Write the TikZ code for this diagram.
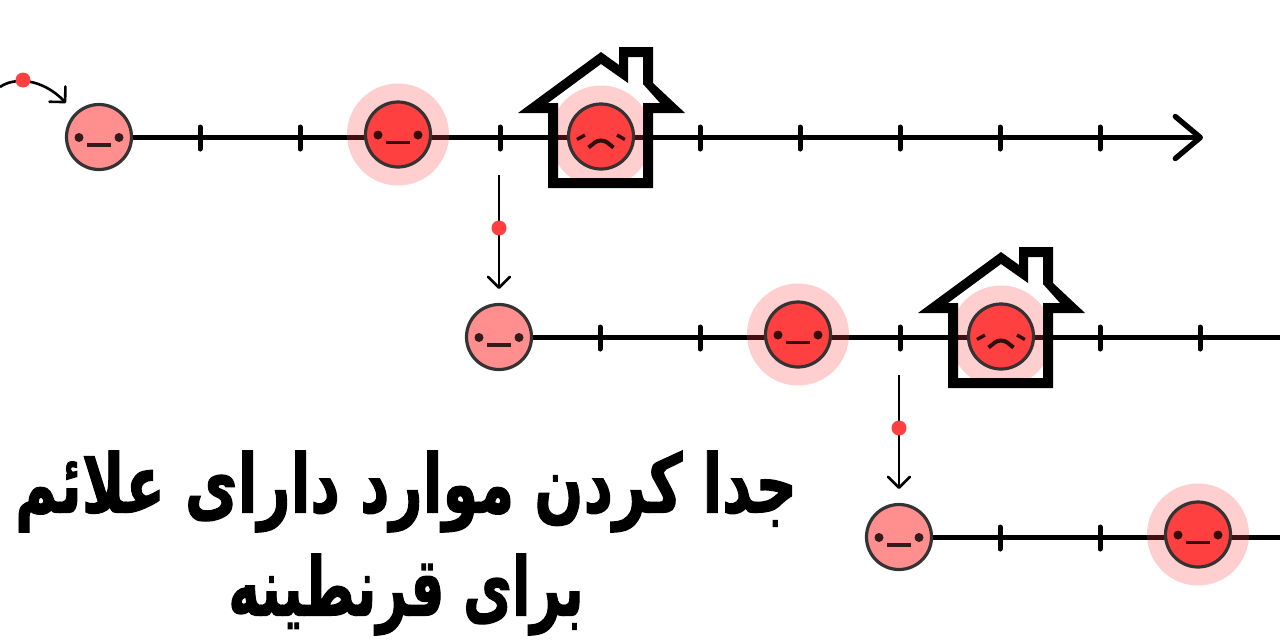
\documentclass[tikz,border=0pt]{standalone}
\usepackage{fontspec}
\usetikzlibrary{arrows.meta}
\TeXXeTstate=1
\newfontfamily\arabicfont[Script=Arabic,FakeBold=1.6]{DejaVu Sans Bold}
\definecolor{strong}{HTML}{FF4040}
\definecolor{soft}{HTML}{FF8F8F}
\definecolor{rim}{HTML}{333333}
\tikzset{
  x=1pt,y=-1pt,
  axisline/.style={line width=5pt,black},
  tickmark/.style={line width=5pt,line cap=round,black},
  halo/.style={circle,fill=strong,fill opacity=.25,minimum size=102pt,inner sep=0pt},
  facebase/.style={circle,draw=rim,line width=3.2pt,minimum size=65pt,inner sep=0pt},
  eye/.style={fill=black,fill opacity=.8},
  mouth/.style={line width=3.4pt,draw=black,draw opacity=.8},
  hop/.style={line width=2.6pt,black,-{Straight Barb[round,length=11pt,width=22pt,line width=2.6pt]}},
  bigtip/.style={-{Straight Barb[round,length=25pt,width=42pt,line width=5.4pt]}},
  reddot/.style={circle,fill=strong,minimum size=15pt,inner sep=0pt},
}
\newcommand\neutralface[1]{%
  \fill[eye] (#1)++(-20,0.5) circle (4.5);
  \fill[eye] (#1)++(20,0.5) circle (4.5);
  \draw[mouth] (#1)++(-12,8) -- ++(24,0);
}
\newcommand\sadface[1]{%
  \draw[mouth] (#1)++(-24,3) -- ++(8,-4.5);
  \draw[mouth] (#1)++(24,3) -- ++(-8,-4.5);
  \draw[mouth,line width=4pt] (#1)++(-12.5,11) to[out=35,in=180] ++(12.5,-7) to[out=0,in=145] ++(12.5,7);
}
\newcommand\house{%
  \fill[black,even odd rule]
    (518,113)--(601,52)--(619,65)--(619,47)--(653,47)--(653,83)--(685,113)--(653,113)--(653,188)--(548,188)--(548,113)--cycle
    (548,103)--(601,64)--(628,83)--(628,57)--(643,57)--(643,84)--(660,103)--(643,103)--(643,178)--(558,178)--(558,103)--cycle;
}
\begin{document}
\begin{tikzpicture}
\useasboundingbox (0,0) rectangle (1280,640);
\fill[white] (0,0) rectangle (1280,640);

% row 3
\begin{scope}[shift={(800,400)}]
  \coordinate (endC) at (480,137.5);
  \node[facebase,fill=soft] (faceCa) at (99,137) {};
  \draw[axisline] (faceCa.east |- endC) -- (endC);
  \foreach \t in {200,300} \draw[tickmark] (\t,127) -- (\t,149);
  \node[halo] (haloCb) at (398,134.5) {};
  \node[facebase,fill=strong] (faceCb) at (398,134.5) {};
  \neutralface{faceCb}
  \neutralface{faceCa}
\end{scope}

% row 2
\begin{scope}[shift={(400,200)}]
  \coordinate (endB) at (880,137.5);
  \node[facebase,fill=soft] (faceBa) at (99,137) {};
  \draw[axisline] (faceBa.east |- endB) -- (endB);
  \foreach \t in {200,300,500,700,800} \draw[tickmark] (\t,127) -- (\t,149);
  \node[halo] (haloBb) at (398,134.5) {};
  \node[facebase,fill=strong] (faceBb) at (398,134.5) {};
  \neutralface{faceBb}
  \neutralface{faceBa}
  \node[halo] (haloBc) at (601,136.5) {};
  \node[facebase,fill=strong] (faceBc) at (601,136.5) {};
  \sadface{faceBc}
  \house
\end{scope}

% row 1
\coordinate (endA) at (1203,137.5);
\node[facebase,fill=soft] (faceAa) at (99,137) {};
\draw[axisline,bigtip] (faceAa.east |- endA) -- (endA);
\foreach \t in {200,300,500,700,800,900,1000,1100} \draw[tickmark] (\t,127) -- (\t,149);
\node[halo] (haloAb) at (398,134.5) {};
\node[facebase,fill=strong] (faceAb) at (398,134.5) {};
\neutralface{faceAb}
\neutralface{faceAa}
\node[halo] (haloAc) at (601,136.5) {};
\node[facebase,fill=strong] (faceAc) at (601,136.5) {};
\sadface{faceAc}
\house

% connectors
\coordinate (startHop) at (0,87);
\coordinate (tipHop) at (66,103);
\draw[hop] (startHop) .. controls (14,77) and (42,78) .. (tipHop);
\node[reddot] (dotA) at (23,80) {};
\coordinate (startB) at (499,175);
\coordinate (tipB) at (499,289);
\draw[hop] (startB) -- (tipB);
\node[reddot] (dotB) at (499,228) {};
\coordinate (startC) at (899,375);
\coordinate (tipC) at (899,489);
\draw[hop] (startC) -- (tipC);
\node[reddot] (dotC) at (899,428) {};

% title
\node[align=center,font=\arabicfont\fontsize{60}{103}\selectfont,text=black] (title) at (406,543)
  {\scalebox{.96}[1.35]{\beginR جدا کردن موارد دارای علائم\endR}\\\scalebox{.89}[1.35]{\beginR برای قرنطینه\endR}};
\end{tikzpicture}
\end{document}
